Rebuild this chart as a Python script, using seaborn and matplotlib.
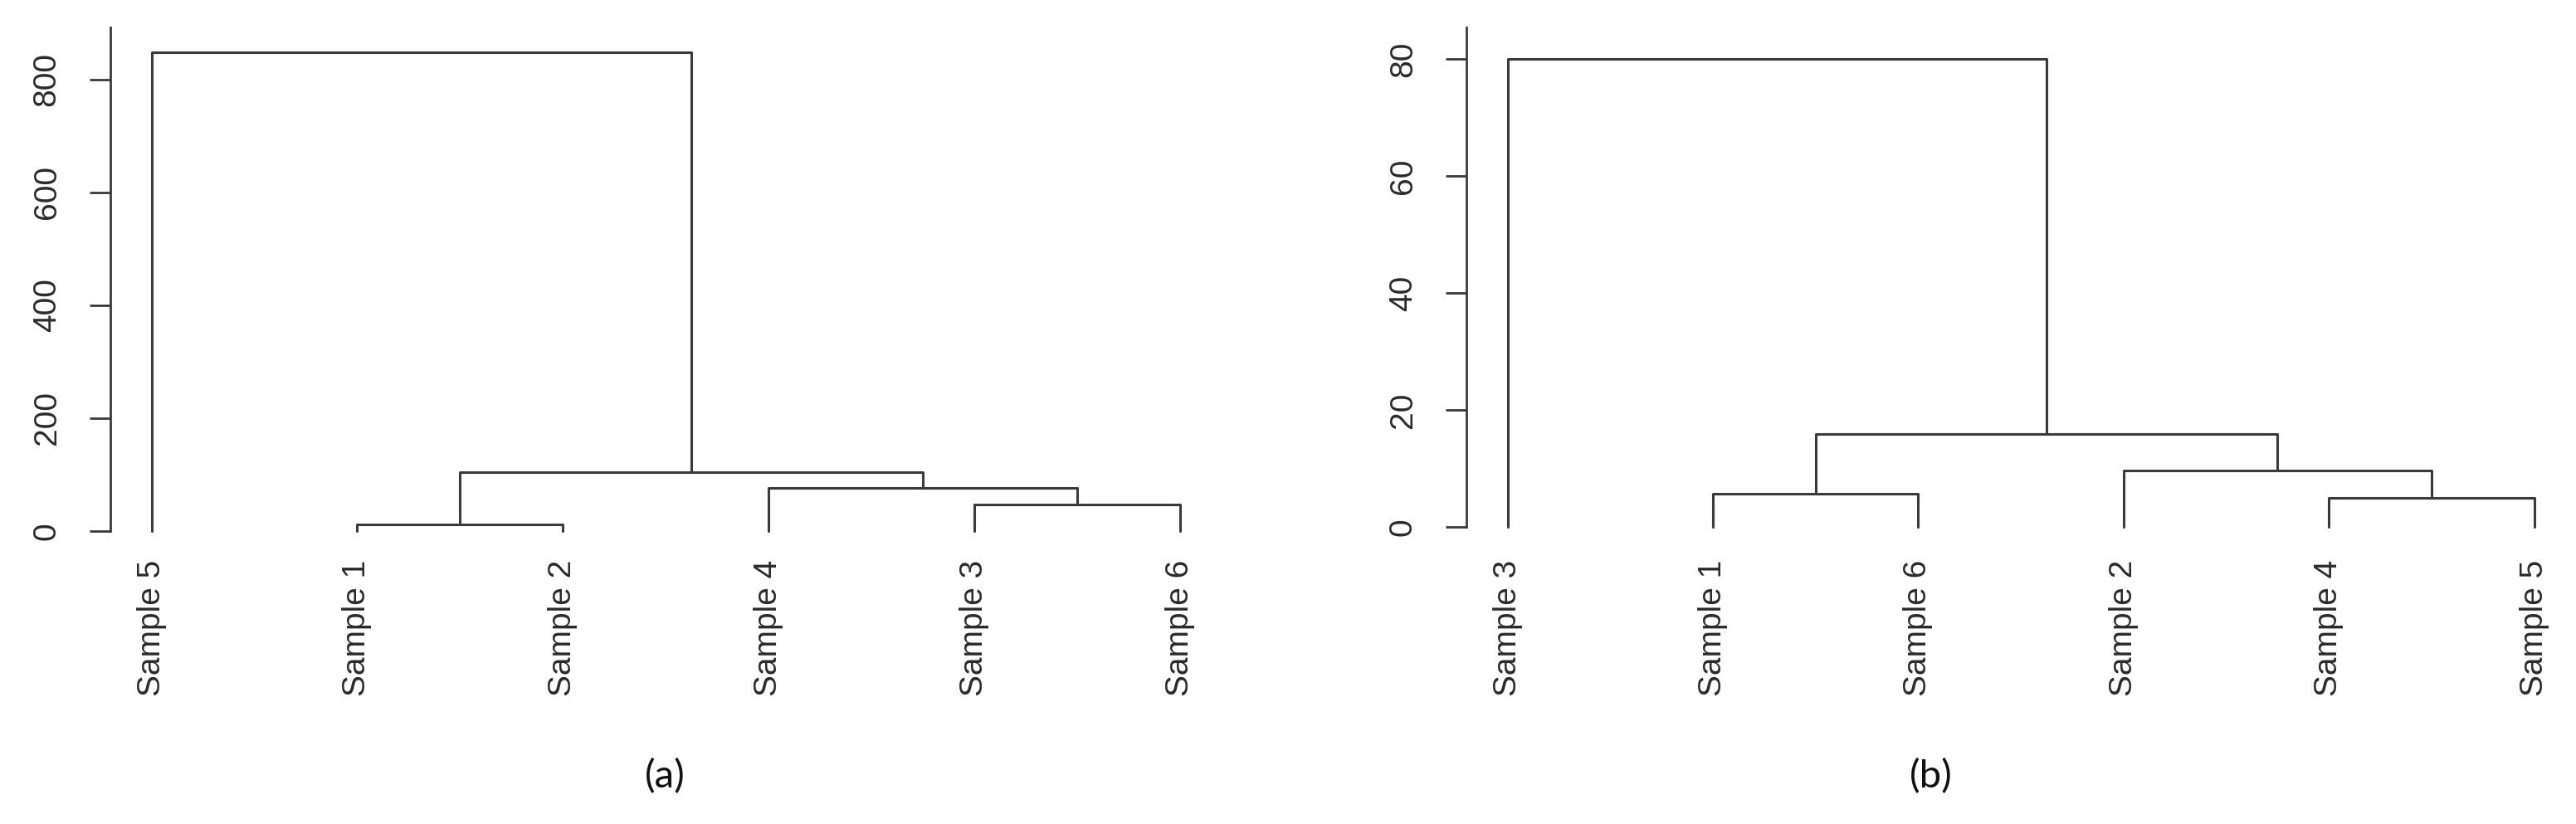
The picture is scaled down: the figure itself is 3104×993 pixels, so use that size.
import pandas as pd
import seaborn as sns
import matplotlib.pyplot as plt

sns.set_style("ticks")
plt.rcParams['font.family'] = ['Liberation Sans', 'DejaVu Sans']

# (a) leaves in plotting order, merges as R hclust: negative = leaf position, positive = earlier merge
labels_a = ["Sample 5", "Sample 1", "Sample 2", "Sample 4", "Sample 3", "Sample 6"]
merge_a = [(-2, -3), (-5, -6), (-4, 2), (1, 3), (-1, 4)]
height_a = [12, 47, 76, 104, 848]
ticks_a = [0, 200, 400, 600, 800]

# (b)
labels_b = ["Sample 3", "Sample 1", "Sample 6", "Sample 2", "Sample 4", "Sample 5"]
merge_b = [(-5, -6), (-2, -3), (-4, 1), (2, 3), (-1, 4)]
height_b = [4.9, 5.7, 9.6, 15.9, 80]
ticks_b = [0, 20, 40, 60, 80]

line_col = "#3a3a3a"
text_col = "#2a2a2a"


def links(merge, height):
    pos, hgt, rows = {}, {}, []
    for i, ((a, b), h) in enumerate(zip(merge, height), start=1):
        xs, ys = [], []
        for c in (a, b):
            if c < 0:
                xs.append(-c)
                ys.append(0)
            else:
                xs.append(pos[c])
                ys.append(hgt[c])
        pos[i] = (xs[0] + xs[1]) / 2
        hgt[i] = h
        for x, y in [(xs[0], ys[0]), (xs[0], h), (xs[1], h), (xs[1], ys[1])]:
            rows.append({"link": i, "x": x, "y": y})
    return pd.DataFrame(rows)


def dendro(ax, labels, merge, height, ticks, ylim):
    df = links(merge, height)
    sns.lineplot(data=df, x="x", y="y", units="link", estimator=None, sort=False,
                 color=line_col, lw=2.2, ax=ax, legend=False)
    ax.set_xlim(0.8, 6.2)
    ax.set_ylim(*ylim)
    ax.set_xticks(range(1, len(labels) + 1))
    ax.set_xticklabels(labels, rotation=90)
    ax.set_yticks(ticks)
    ax.set_xlabel("")
    ax.set_ylabel("")
    ax.tick_params(axis="x", length=0, pad=9, labelsize=28, labelcolor=text_col)
    ax.tick_params(axis="y", length=18, width=2, pad=24, labelsize=28,
                   labelrotation=90, color=line_col, labelcolor=text_col)
    for t in ax.get_yticklabels():
        t.set_va("center")
    sns.despine(ax=ax, bottom=True)
    ax.spines["left"].set_bounds(0, ylim[1])
    ax.spines["left"].set_linewidth(2)
    ax.spines["left"].set_color(line_col)


fig = plt.figure(figsize=(31.04, 9.93), dpi=100)
ax_a = fig.add_axes([0.04285, 0.3333, 0.4311, 0.6335])
ax_b = fig.add_axes([0.5693, 0.3333, 0.4304, 0.6335])

dendro(ax_a, labels_a, merge_a, height_a, ticks_a, (-32.4, 892.6))
dendro(ax_b, labels_b, merge_b, height_b, ticks_b, (-3.83, 85.4))

fig.text(801 / 3104, 1 - 936 / 993, "(a)", ha="center", va="center",
         fontsize=34, family=["Lato", "DejaVu Sans"], color="#111111")
fig.text(2327 / 3104, 1 - 936 / 993, "(b)", ha="center", va="center",
         fontsize=34, family=["Lato", "DejaVu Sans"], color="#111111")

fig.savefig("out.png", dpi=100)
